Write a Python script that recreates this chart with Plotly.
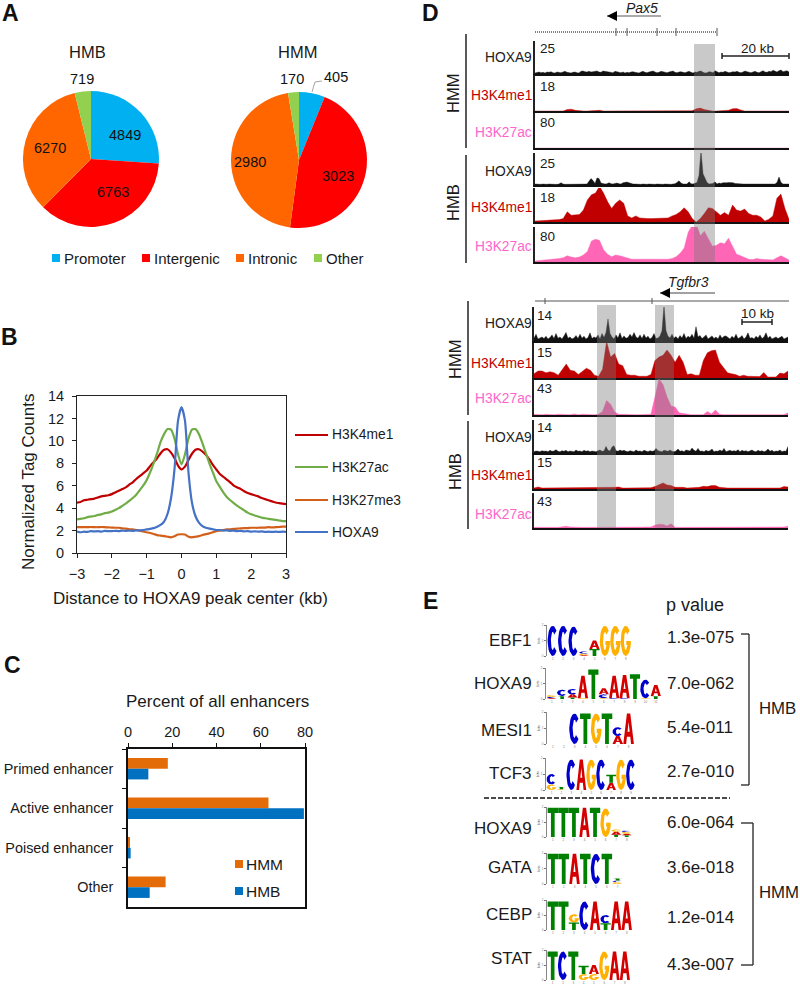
import numpy as np
import plotly.graph_objects as go

W, H = 800, 987
FONT = "Liberation Sans"
TXT = "#1a1a1a"

# ---------- Panel A ----------
PIE_LABELS = ["Promoter", "Intergenic", "Intronic", "Other"]
PIE_COLORS = ["#00B0F0", "#FF0000", "#FF6600", "#92D050"]
HMB_PIE = [4849, 6763, 6270, 719]
HMM_PIE = [405, 3023, 2980, 170]

# ---------- Panel B ----------
DIST = [round(-3 + 0.1 * i, 1) for i in range(61)]
P_K4 = [4.5, 4.55, 4.7, 4.75, 4.8, 4.85, 4.95, 5.05, 5.1, 5.15,
        5.25, 5.4, 5.55, 5.7, 5.85, 6.1, 6.3, 6.6, 6.85, 7.1,
        7.35, 7.75, 8.1, 8.45, 8.9, 9.2, 9.25, 8.95, 8.45, 7.8,
        7.45, 7.7, 8.3, 8.85, 9.2, 9.25, 9.05, 8.75, 8.35, 7.85,
        7.45, 7.05, 6.8, 6.55, 6.3, 6.0, 5.85, 5.7, 5.5, 5.35,
        5.25, 5.15, 5.05, 4.9, 4.8, 4.7, 4.6, 4.5, 4.45, 4.4, 4.35]
P_K27AC = [3.0, 3.05, 3.1, 3.2, 3.25, 3.3, 3.4, 3.45, 3.55, 3.6,
           3.7, 3.85, 4.0, 4.2, 4.4, 4.65, 4.9, 5.2, 5.6, 6.0,
           6.5, 7.2, 8.0, 8.9, 9.9, 10.6, 11.05, 11.0, 10.2, 8.8,
           7.9, 8.8, 10.2, 11.0, 11.05, 10.6, 9.8, 8.9, 8.0, 7.2,
           6.4, 5.9, 5.4, 5.0, 4.7, 4.45, 4.2, 4.0, 3.8, 3.6,
           3.45, 3.35, 3.25, 3.15, 3.1, 3.05, 3.0, 2.95, 2.9, 2.85, 2.85]
P_K27ME3 = [2.3, 2.3, 2.3, 2.3, 2.32, 2.3, 2.3, 2.32, 2.3, 2.28,
            2.27, 2.25, 2.25, 2.2, 2.17, 2.12, 2.1, 2.05, 2.0, 1.92,
            1.85, 1.78, 1.7, 1.6, 1.55, 1.5, 1.45, 1.4, 1.5, 1.65,
            1.67, 1.65, 1.45, 1.4, 1.45, 1.5, 1.6, 1.68, 1.75, 1.85,
            1.95, 2.0, 2.05, 2.1, 2.12, 2.15, 2.17, 2.2, 2.22, 2.22,
            2.25, 2.25, 2.25, 2.27, 2.27, 2.3, 2.28, 2.3, 2.32, 2.35, 2.35]
P_HOXA9 = [1.9, 1.85, 1.9, 1.88, 1.95, 1.92, 1.95, 1.9, 1.97, 1.95,
           1.95, 1.98, 1.95, 2.0, 1.97, 2.0, 1.98, 2.02, 2.0, 2.05,
           2.1, 2.15, 2.22, 2.35, 2.5, 2.8, 3.5, 4.9, 7.5, 11.8,
           13.0, 11.8, 7.2, 4.5, 3.3, 2.7, 2.4, 2.25, 2.18, 2.12,
           2.05, 2.05, 2.0, 2.02, 1.98, 2.0, 1.95, 1.97, 1.93, 1.95,
           1.9, 1.93, 1.9, 1.92, 1.88, 1.9, 1.88, 1.9, 1.88, 1.9, 1.88]
PROFILE_NAMES = ["H3K4me1", "H3K27ac", "H3K27me3", "HOXA9"]
PROFILE_COLORS = ["#C00000", "#70AD47", "#D2601A", "#4472C4"]

# ---------- Panel C ----------
ENH_CATS = ["Primed enhancer", "Active enhancer", "Poised enhancer", "Other"]
ENH_HMM = [18, 63.5, 0.7, 17]
ENH_HMB = [9.2, 79.5, 1.2, 9.8]

# ---------- Panel D (signal as percent of each track's scale) ----------
PAX5_HMM_HOXA9 = [3, 4, 6, 4, 5, 3, 6, 5, 7, 4, 3, 6, 5, 4, 6, 8, 5, 4, 3, 5, 6, 4, 3, 8, 9, 7, 6, 8, 6, 7, 8, 9,
                  6, 5, 9, 8, 6, 7, 5, 4, 8, 7, 5, 4, 6, 3, 5, 4, 6, 7, 5, 4, 3, 6, 8, 5, 4, 6, 7, 9, 6, 4, 5, 8,
                  7, 5, 4, 6, 8, 9, 5, 4, 6, 7, 5, 4, 6, 8, 5, 3, 6, 5, 8, 9, 5, 3, 4, 7, 6, 4, 10, 8, 4, 6, 5, 8,
                  6, 4, 5, 7, 6, 8, 5, 4, 6, 9, 7, 5, 4, 6, 8, 5, 4, 7, 10, 6, 5, 8, 7, 11, 8, 6, 10, 12, 7, 8, 10, 6]
PAX5_HMM_K4 = [0, 0, 0, 0, 0, 0, 0, 0, 4, 5, 2, 0, 0, 0, 1, 3, 2, 0, 0, 0, 0, 0, 0, 0, 0, 0, 0, 0, 0, 0, 0, 0,
               0, 0, 0, 0, 0, 0, 0, 1, 6, 8, 4, 1, 0, 0, 0, 0, 2, 6, 7, 3, 0, 0, 0, 0, 0, 0, 0, 0, 0, 0, 0, 0]
PAX5_HMM_K27AC = [0, 0, 0, 0, 0, 0, 0, 0]
PAX5_HMB_HOXA9 = [3, 2, 3, 2, 3, 2, 2, 3, 2, 3, 2, 2, 3, 7, 3, 2, 2, 3, 2, 2, 3, 2, 2, 3, 2, 3, 3, 12, 20, 14, 5, 22,
                  20, 6, 4, 3, 4, 7, 4, 3, 5, 6, 4, 3, 7, 8, 9, 7, 4, 3, 3, 2, 3, 2, 3, 2, 2, 3, 2, 3, 2, 3, 2, 3,
                  2, 3, 2, 3, 2, 3, 4, 8, 13, 6, 3, 3, 3, 10, 4, 3, 5, 8, 30, 108, 35, 22, 8, 3, 3, 5, 10, 3, 6, 5, 7, 6,
                  7, 8, 8, 7, 5, 4, 3, 4, 3, 3, 3, 5, 3, 3, 3, 3, 3, 3, 3, 4, 3, 3, 3, 3, 3, 8, 25, 8, 3, 3, 3, 3]
PAX5_HMB_K4 = [3, 3, 5, 5, 6, 6, 7, 10, 30, 20, 20, 22, 35, 65, 80, 85, 105, 85, 60, 40, 55, 65, 55, 18, 12, 18, 12, 10, 10, 10, 10, 10,
               10, 12, 18, 22, 30, 42, 30, 10, 0, 10, 25, 42, 40, 30, 20, 28, 20, 50, 35, 32, 38, 25, 20, 20, 15, 3, 8, 18, 70, 82, 40, 8]
PAX5_HMB_K27AC = [3, 4, 5, 5, 6, 7, 10, 12, 18, 14, 12, 14, 20, 30, 60, 65, 62, 35, 22, 15, 20, 18, 14, 10, 8, 8, 8, 8, 8, 8, 8, 8,
                  7, 8, 10, 15, 25, 40, 85, 105, 110, 75, 88, 65, 45, 48, 55, 52, 68, 45, 22, 18, 12, 8, 7, 10, 8, 7, 6, 6, 12, 18, 12, 6]

TGF_HMM_HOXA9 = [8, 20, 6, 9, 12, 7, 14, 6, 10, 18, 7, 22, 8, 12, 6, 15, 25, 8, 12, 6, 9, 16, 7, 20, 8, 14, 6, 10, 24, 7, 12, 9,
                 18, 6, 22, 10, 25, 65, 22, 12, 6, 18, 9, 24, 7, 15, 8, 10, 20, 12, 25, 12, 8, 18, 7, 20, 9, 14, 6, 10, 22, 7, 9, 15,
                 30, 105, 30, 14, 9, 20, 8, 13, 6, 16, 9, 22, 7, 14, 10, 20, 8, 42, 12, 16, 7, 12, 18, 6, 10, 15, 7, 12, 6, 18, 8, 14,
                 15, 9, 6, 14, 8, 20, 7, 10, 16, 6, 12, 24, 8, 10, 6, 14, 9, 18, 7, 12, 24, 8, 14, 6, 9, 12, 7, 10, 14, 6, 10, 12]
TGF_HMM_K4 = [12, 20, 20, 15, 18, 15, 8, 25, 40, 22, 20, 10, 18, 28, 22, 8, 5, 25, 105, 60, 70, 40, 35, 10, 8, 8, 5, 5, 5, 10, 50, 60,
              65, 80, 65, 45, 65, 45, 10, 12, 8, 8, 50, 72, 78, 80, 45, 30, 15, 12, 10, 5, 8, 5, 4, 4, 4, 16, 3, 3, 3, 14, 12, 20]
TGF_HMM_K27AC = [2, 1, 1, 2, 1, 1, 2, 1, 1, 1, 3, 1, 2, 1, 1, 1, 2, 10, 40, 30, 8, 2, 2, 1, 1, 1, 1, 1, 1, 2, 50, 100,
                 85, 50, 25, 22, 6, 4, 2, 1, 1, 1, 1, 10, 3, 14, 2, 1, 1, 1, 1, 1, 1, 1, 1, 1, 1, 1, 1, 1, 1, 1, 1, 6]
TGF_HMB_HOXA9 = [4, 6, 5, 4, 7, 5, 6, 4, 8, 5, 6, 10, 5, 4, 7, 5, 8, 4, 6, 5, 4, 9, 5, 6, 4, 8, 5, 7, 4, 6, 5, 4,
                 7, 9, 5, 6, 20, 8, 6, 18, 22, 7, 5, 9, 6, 8, 5, 4, 7, 6, 4, 9, 5, 6, 4, 8, 5, 4, 7, 5, 6, 14, 7, 5,
                 4, 8, 6, 5, 9, 5, 4, 6, 12, 5, 7, 4, 9, 8, 6, 15, 8, 5, 14, 5, 6, 4, 8, 5, 7, 12, 4, 6, 5, 9, 5, 14,
                 4, 6, 8, 5, 7, 5, 10, 4, 8, 5, 7, 4, 6, 9, 5, 4, 8, 5, 7, 4, 6, 12, 5, 8, 4, 6, 5, 9, 4, 6, 5, 20]
TGF_HMB_K4 = [3, 6, 3, 3, 4, 3, 3, 4, 3, 3, 5, 3, 3, 3, 3, 3, 3, 4, 3, 3, 5, 6, 3, 3, 3, 4, 3, 3, 3, 4, 7, 12,
              18, 12, 10, 5, 6, 5, 3, 3, 3, 5, 8, 7, 10, 10, 5, 3, 3, 3, 3, 3, 3, 3, 3, 3, 3, 3, 3, 3, 4, 3, 7, 6]
TGF_HMB_K27AC = [2, 3, 2, 2, 3, 2, 2, 3, 5, 3, 2, 2, 2, 2, 3, 2, 2, 2, 3, 2, 2, 2, 2, 2, 3, 2, 2, 2, 2, 3, 8, 11,
                 10, 6, 12, 2, 2, 2, 3, 2, 3, 4, 3, 2, 3, 2, 2, 3, 2, 2, 2, 3, 2, 2, 2, 2, 2, 2, 2, 2, 3, 2, 3, 5]

TRACK_LABELS = ["HOXA9", "H3K4me1", "H3K27ac"]
TRACK_COLORS = ["#111111", "#C00000", "#FF66B5"]
LABEL_COLORS = ["#222222", "#C00000", "#FF66CC"]

# ---------- Panel E ----------
LOGO_EBF1 = [[("C", 1.95)], [("C", 1.95)], [("C", 1.9)], [("A", 0.05), ("G", 0.1), ("C", 0.15)],
             [("T", 0.45), ("A", 0.55)], [("G", 1.95)], [("G", 1.95)], [("G", 1.95)]]
LOGO_HOXA9B = [[("A", 0.05), ("C", 0.08), ("G", 0.12)], [("T", 0.2), ("C", 0.4)], [("T", 0.1), ("A", 0.2), ("C", 0.35)],
               [("G", 0.05), ("A", 1.45)], [("T", 1.9)], [("G", 0.05), ("C", 0.25), ("A", 0.4)], [("C", 0.05), ("A", 1.45)],
               [("C", 0.05), ("A", 1.5)], [("T", 1.6)], [("G", 0.05), ("C", 1.2)], [("T", 0.2), ("A", 0.7)]]
LOGO_MESI1 = [[], [], [("C", 1.9)], [("T", 1.9)], [("G", 1.9)], [("T", 1.9)], [("A", 0.5), ("C", 0.55)], [("A", 1.9)]]
LOGO_TCF3 = [[("G", 0.35), ("C", 0.65)], [("G", 0.05), ("T", 0.15)], [("C", 1.9)], [("A", 1.9)], [("G", 1.9)],
             [("C", 1.9)], [("A", 0.45), ("T", 0.5)], [("G", 1.9)], [("C", 1.9)]]
LOGO_HOXA9M = [[("T", 1.95)], [("T", 1.95)], [("T", 1.95)], [("A", 1.95)], [("T", 1.95)], [("G", 1.9)],
               [("T", 0.15), ("A", 0.2), ("G", 0.15)], [("T", 0.12), ("A", 0.1), ("G", 0.12), ("C", 0.08)]]
LOGO_GATA = [[("T", 1.95)], [("T", 1.95)], [("A", 1.95)], [("T", 1.95)], [("C", 1.95)], [("T", 1.95)],
             [("G", 0.12), ("C", 0.1), ("T", 0.15)]]
LOGO_CEBP = [[("T", 1.9)], [("T", 1.9)], [("T", 0.5), ("G", 0.55)], [("C", 1.9)], [("A", 1.9)],
             [("T", 0.45), ("C", 0.55)], [("A", 1.9)], [("A", 1.9)]]
LOGO_STAT = [[("T", 1.9)], [("C", 1.9)], [("T", 1.9)], [("G", 0.4), ("T", 0.55)], [("G", 0.4), ("A", 0.6)],
             [("G", 1.9)], [("A", 1.9)], [("A", 1.9)]]
MOTIF_NAMES = ["EBF1", "HOXA9", "MESI1", "TCF3", "HOXA9", "GATA", "CEBP", "STAT"]
MOTIF_P = ["1.3e-075", "7.0e-062", "5.4e-011", "2.7e-010", "6.0e-064", "3.6e-018", "1.2e-014", "4.3e-007"]
BASE_COLORS = {"A": "#D40000", "C": "#0000CC", "G": "#FFB000", "T": "#008000"}


def xp(x):
    return x / W


def yp(y):
    return 1 - y / H


def arc(rx, ry, a0, a1, n=28):
    t = np.radians(np.linspace(a0, a1, n))
    return list(zip(0.5 + rx * np.cos(t), 0.5 + ry * np.sin(t)))


# unit-box outlines for the sequence-logo letters
GLYPHS = {
    "T": [(0.32, 0), (0.68, 0), (0.68, 0.82), (1, 0.82), (1, 1), (0, 1), (0, 0.82), (0.32, 0.82)],
    "A": [(0, 0), (0.27, 0), (0.34, 0.24), (0.66, 0.24), (0.73, 0), (1, 0), (0.66, 1), (0.5, 0.72),
          (0.6, 0.4), (0.4, 0.4), (0.5, 0.72), (0.66, 1), (0.34, 1)],
    "C": arc(0.5, 0.5, 42, 318) + arc(0.18, 0.3, 318, 42),
    "G": arc(0.5, 0.5, 42, 360) + [(0.55, 0.5), (0.55, 0.36), (0.66, 0.36)] + arc(0.18, 0.3, 322, 42),
}

fig = go.Figure()
layout_axes = {}
ann = []
shapes = []
ax_n = [0]


def new_axes(x0, x1, ytop, ybot, xcfg, ycfg):
    ax_n[0] += 1
    n = ax_n[0]
    sx = "" if n == 1 else str(n)
    layout_axes["xaxis" + sx] = dict(domain=[xp(x0), xp(x1)], anchor="y" + sx, automargin=False, **xcfg)
    layout_axes["yaxis" + sx] = dict(domain=[yp(ybot), yp(ytop)], anchor="x" + sx, automargin=False, **ycfg)
    return "x" + sx, "y" + sx


def txt(x, y, s, size=14, color=TXT, anchor="center", **kw):
    # annotations keep a small inner padding: compensate so x is the ink edge
    nudge = {"left": -2, "right": 2.5, "center": 0}[anchor]
    ann.append(dict(x=xp(x + nudge), y=yp(y), xref="paper", yref="paper", text=s, showarrow=False,
                    xanchor=anchor, yanchor="middle", font=dict(family=FONT, size=size, color=color), **kw))


def line(x0, y0, x1, y1, color="#222222", width=1.5, dash=None):
    shapes.append(dict(type="line", xref="paper", yref="paper", x0=xp(x0), x1=xp(x1), y0=yp(y0), y1=yp(y1),
                       line=dict(color=color, width=width, dash=dash)))


def box(x0, y0, x1, y1, color, layer="above"):
    shapes.append(dict(type="rect", xref="paper", yref="paper", x0=xp(x0), x1=xp(x1), y0=yp(y0), y1=yp(y1),
                       fillcolor=color, line=dict(width=0), layer=layer))


# Panel letters
for s, x, y in [("A", 10, 13), ("B", 9, 337), ("C", 12, 665), ("D", 431, 13), ("E", 431, 601)]:
    txt(x, y, "<b>%s</b>" % s, size=23, color="#111111")

# ---------- A: pies ----------
for vals, name, cx, cy, r in [(HMB_PIE, "HMB", 91, 159, 68), (HMM_PIE, "HMM", 299, 160, 68)]:
    fig.add_trace(go.Pie(values=vals, labels=PIE_LABELS, sort=False, direction="clockwise", rotation=0,
                         marker=dict(colors=PIE_COLORS, line=dict(width=0)), textinfo="none", name=name,
                         showlegend=False, hoverinfo="label+value",
                         domain=dict(x=[xp(cx - r), xp(cx + r)], y=[yp(cy + r), yp(cy - r)])))
txt(87, 52, "HMB", 16.5)
txt(297, 52, "HMM", 16.5)
for s, x, y in [("719", 82, 79), ("4849", 125, 135), ("6763", 113, 192), ("6270", 50, 148),
                ("170", 292, 79), ("405", 336, 77), ("3023", 338, 176), ("2980", 250, 162)]:
    txt(x, y, s, 14.5, color="#111111")
shapes.append(dict(type="path", xref="paper", yref="paper",
                   path="M%f,%f L%f,%f L%f,%f" % (xp(312), yp(92), xp(315), yp(82), xp(322), yp(81)),
                   line=dict(color="#A6A6A6", width=1)))
for lab, col, sx in zip(PIE_LABELS, PIE_COLORS, [56, 146, 240, 318]):
    box(sx - 4, 254, sx + 4, 262, col)
    txt(sx + 8, 258, lab, 15, anchor="left")

# ---------- B: profile ----------
xb, yb = new_axes(77, 286, 396, 553,
                  dict(range=[-3, 3], tickmode="array", tickvals=[-3, -2, -1, 0, 1, 2, 3], ticks="outside", ticklen=4,
                       tickcolor="#222", showline=True, mirror=True, linecolor="#222", linewidth=1, showgrid=False,
                       zeroline=False, tickfont=dict(family=FONT, size=14.5, color=TXT), ticklabelstandoff=4),
                  dict(range=[0, 14], tickmode="array", tickvals=[0, 2, 4, 6, 8, 10, 12, 14], ticks="outside", ticklen=4,
                       tickcolor="#222", showline=True, mirror=True, linecolor="#222", linewidth=1, showgrid=False,
                       zeroline=False, tickfont=dict(family=FONT, size=14.5, color=TXT), ticklabelstandoff=5))
txt(190, 598, "Distance to HOXA9 peak center (kb)", 17)
txt(28, 482, "Normalized Tag Counts", 17, textangle=-90)
for name, vals, col in zip(PROFILE_NAMES, [P_K4, P_K27AC, P_K27ME3, P_HOXA9], PROFILE_COLORS):
    fig.add_trace(go.Scatter(x=DIST, y=vals, mode="lines", name=name, xaxis=xb, yaxis=yb, showlegend=False,
                             line=dict(color=col, width=2.2, shape="spline", smoothing=0.6)))
for name, col, y in zip(PROFILE_NAMES, PROFILE_COLORS, [435, 467, 500, 532]):
    line(295, y, 328, y, color=col, width=2.2)
    txt(332, y, name, 13.8, anchor="left")

# ---------- C: bars ----------
xc, yc = new_axes(128, 305, 749, 907,
                  dict(range=[0, 80], side="top", tickmode="array", tickvals=[0, 20, 40, 60, 80], ticks="outside",
                       ticklen=4, tickcolor="#111", showline=True, mirror=True, linecolor="#111", linewidth=1.5,
                       showgrid=False, zeroline=False, tickfont=dict(family=FONT, size=14.5, color=TXT)),
                  dict(type="category", autorange=False, range=[3.5, -0.5], tickson="boundaries", ticks="outside",
                       ticklen=4, tickcolor="#111", showline=True, mirror=True, linecolor="#111", linewidth=1.5,
                       showgrid=False, zeroline=False, ticklabelstandoff=10,
                       tickfont=dict(family=FONT, size=14.4, color=TXT)))
txt(217, 701, "Percent of all enhancers", 17)
for name, vals, col in [("HMM", ENH_HMM, "#E36C09"), ("HMB", ENH_HMB, "#0070C0")]:
    fig.add_trace(go.Bar(y=ENH_CATS, x=vals, orientation="h", name=name, xaxis=xc, yaxis=yc, showlegend=False,
                         marker=dict(color=col, line=dict(width=0))))
for name, col, y in [("HMM", "#E36C09", 864), ("HMB", "#0070C0", 891)]:
    box(235, y - 4, 243, y + 4, col)
    txt(246, y, name, 15.5, anchor="left")

# ---------- D: genome tracks ----------
TRACK_SETS = [
    dict(x0=535, x1=789, scale_x=540,
         series=[PAX5_HMM_HOXA9, PAX5_HMM_K4, PAX5_HMM_K27AC, PAX5_HMB_HOXA9, PAX5_HMB_K4, PAX5_HMB_K27AC],
         scales=["25", "18", "80", "25", "18", "80"],
         scale_y=[49, 86, 123, 163, 197, 236],
         label_y=[57, 95, 132, 171, 208, 247],
         boxes=[(41, 74), (75, 111), (113, 148), (153, 185), (188, 222), (227, 262)]),
    dict(x0=534, x1=788, scale_x=537,
         series=[TGF_HMM_HOXA9, TGF_HMM_K4, TGF_HMM_K27AC, TGF_HMB_HOXA9, TGF_HMB_K4, TGF_HMB_K27AC],
         scales=["14", "15", "43", "14", "15", "43"],
         scale_y=[315, 352, 388, 427, 463, 501],
         label_y=[323, 363, 398, 437, 475, 514],
         boxes=[(307, 341), (343, 378), (379, 415), (420, 453), (455, 489), (493, 528)]),
]
for ts in TRACK_SETS:
    for i, (vals, sc, sy, ly, (top, bot)) in enumerate(zip(ts["series"], ts["scales"], ts["scale_y"], ts["label_y"],
                                                           ts["boxes"])):
        cfg_x = dict(range=[0, 100], showline=True, linecolor="#111", linewidth=1.5, showticklabels=False, ticks="",
                     showgrid=False, zeroline=False)
        cfg_y = dict(range=[0, 100], showline=True, linecolor="#222", linewidth=1.5, showticklabels=False, ticks="",
                     showgrid=False, zeroline=False)
        xa, ya = new_axes(ts["x0"], ts["x1"], top, bot, cfg_x, cfg_y)
        col = TRACK_COLORS[i % 3]
        fig.add_trace(go.Scatter(x=np.linspace(0, 100, len(vals)), y=vals, mode="lines", fill="tozeroy",
                                 fillcolor=col, line=dict(color=col, width=0.4), xaxis=xa, yaxis=ya,
                                 showlegend=False, cliponaxis=False, name=TRACK_LABELS[i % 3]))
        txt(ts["scale_x"], sy, sc, 13.5, anchor="left")
        txt(531, ly, TRACK_LABELS[i % 3], 13.8, color=LABEL_COLORS[i % 3], anchor="right")

# highlights
box(694, 44, 715, 262, "rgba(120,120,120,0.4)")
box(597, 305, 616, 528, "rgba(120,120,120,0.4)")
box(655, 305, 674, 528, "rgba(120,120,120,0.4)")

# group brackets
for x, y0, y1, tx, ty, s in [(466, 34, 148, 453, 94, "HMM"), (466, 155, 263, 453, 203, "HMB"),
                             (468, 301, 415, 455, 360, "HMM"), (468, 421, 529, 455, 472, "HMB")]:
    line(x, y0, x, y1, color="#222", width=1.5)
    txt(tx, ty, s, 16.5, textangle=-90)

# Pax5 ruler
line(535, 32, 717, 32, color="#555", width=1.5, dash="1px,1px")
for tx in [616, 627, 657, 676, 717]:
    line(tx, 28, tx, 36, color="#555", width=1)
line(607, 16, 661, 16, color="#555", width=1)
shapes.append(dict(type="path", xref="paper", yref="paper",
                   path="M%f,%f L%f,%f L%f,%f Z" % (xp(607), yp(16), xp(617), yp(11), xp(617), yp(21)),
                   fillcolor="#000", line=dict(width=0)))
txt(642, 8, "<i>Pax5</i>", 14)
line(722, 56, 789, 56, color="#222", width=1.5)
line(722, 53, 722, 59, color="#222", width=1.5)
line(789, 53, 789, 59, color="#222", width=1.5)
txt(757, 48, "20 kb", 13.5)

# Tgfbr3 ruler
line(535, 301, 789, 301, color="#555", width=1)
for tx in [545, 652]:
    line(tx, 298, tx, 304, color="#555", width=1)
line(660, 293, 715, 293, color="#444", width=1)
shapes.append(dict(type="path", xref="paper", yref="paper",
                   path="M%f,%f L%f,%f L%f,%f Z" % (xp(660), yp(293), xp(670), yp(288), xp(670), yp(298)),
                   fillcolor="#000", line=dict(width=0)))
txt(688, 282, "<i>Tgfbr3</i>", 14)
line(742, 322, 772, 322, color="#222", width=1.5)
line(742, 319, 742, 325, color="#222", width=1.5)
line(772, 319, 772, 325, color="#222", width=1.5)
txt(757, 313, "10 kb", 13.5)

# ---------- E: logos ----------
LOGOS = [LOGO_EBF1, LOGO_HOXA9B, LOGO_MESI1, LOGO_TCF3, LOGO_HOXA9M, LOGO_GATA, LOGO_CEBP, LOGO_STAT]
LOGO_BOX = [(547, 631, 625, 656), (546, 661, 668, 699), (547, 634, 712, 744), (546, 636, 758, 790),
            (547, 632, 807, 837), (547, 623, 853, 884), (547, 632, 900, 930), (547, 630, 950, 980)]
NAME_Y = [640, 683, 730, 773, 828, 867, 914, 958]
P_Y = [637, 683, 727, 771, 822, 867, 917, 964]

for logo, (x0, x1, top, bot), name, ny, p, py in zip(LOGOS, LOGO_BOX, MOTIF_NAMES, NAME_Y, MOTIF_P, P_Y):
    n = len(logo)
    xa, ya = new_axes(x0, x1, top, bot,
                      dict(range=[-0.05, n], tickmode="array", tickvals=[i + 0.5 for i in range(n)],
                           ticktext=[str(i + 1) for i in range(n)], ticks="", showgrid=False, zeroline=False,
                           showline=False, tickfont=dict(family=FONT, size=3, color="#777")),
                      dict(range=[0, 2], tickmode="array", tickvals=[0, 1, 2], ticks="outside", ticklen=2,
                           tickcolor="#777", showgrid=False, zeroline=False, showline=True, linecolor="#888",
                           linewidth=1, tickfont=dict(family=FONT, size=3, color="#777"),
                           title=dict(text="bits", standoff=1, font=dict(family=FONT, size=4, color="#555"))))
    polys = {b: ([], []) for b in "ACGT"}
    for i, stack in enumerate(logo):
        base = 0.0
        for letter, h in stack:
            g = GLYPHS[letter]
            polys[letter][0].extend([i + 0.01 + 0.98 * p_[0] for p_ in g] + [None])
            polys[letter][1].extend([base + h * p_[1] for p_ in g] + [None])
            base += h
    for b, (xs, ys) in polys.items():
        if xs:
            fig.add_trace(go.Scatter(x=xs, y=ys, mode="lines", fill="toself", fillcolor=BASE_COLORS[b],
                                     line=dict(width=0, color=BASE_COLORS[b]), xaxis=xa, yaxis=ya,
                                     showlegend=False, name=b, hoverinfo="name"))
    txt(531, ny, name, 17, anchor="right")
    txt(700, py, p, 17)

txt(695, 605, "p value", 18)
line(484, 798, 730, 798, color="#111", width=1.5, dash="5px,2px")
for x0, xm, y0, y1, lx, ly, s in [(741, 749, 634, 785, 777, 708, "HMB"), (741, 753, 823, 965, 779, 892, "HMM")]:
    line(x0, y0, xm, y0, color="#222", width=1.3)
    line(xm, y0, xm, y1, color="#222", width=1.3)
    line(x0, y1, xm, y1, color="#222", width=1.3)
    txt(lx, ly, s, 16.8)

fig.update_layout(template="none", width=W, height=H, margin=dict(l=0, r=0, t=0, b=0, pad=0, autoexpand=False),
                  paper_bgcolor="white", plot_bgcolor="white",
                  showlegend=False, barmode="group", bargap=0.46, bargroupgap=0, annotations=ann, shapes=shapes,
                  font=dict(family=FONT), **layout_axes)
fig.write_html("out.html", config=dict(displayModeBar=False), post_script="document.body.style.margin='0';")
